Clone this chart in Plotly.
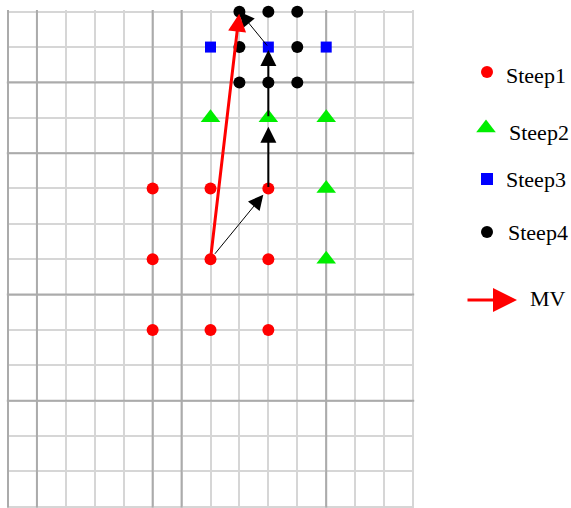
import plotly.graph_objects as go

# ---------------- data ----------------
STEP1_X = [5, 7, 9, 5, 7, 9, 5, 7, 9]
STEP1_Y = [9, 9, 9, 7, 7, 7, 5, 5, 5]
STEP2_X = [7, 9, 11, 11, 11]
STEP2_Y = [11, 11, 11, 9, 7]
STEP3_X = [7, 9, 11]
STEP3_Y = [13, 13, 13]
STEP4_X = [8, 9, 10, 8, 10, 8, 9, 10]
STEP4_Y = [14, 14, 14, 13, 13, 12, 12, 12]
# search path (black arrows) and motion vector (red arrow)
PATH_X = [7, 9, 9, 9, 8]
PATH_Y = [7, 9, 11, 13, 14]
MV_X = [7, 8]
MV_Y = [7, 14]
LEGEND_LABELS = ["Steep1", "Steep2", "Steep3", "Steep4", "MV"]

# ---------------- style ----------------
W, H = 571, 508
GRID_N = 14
DARK_X = [0, 1, 5, 6, 11]
DARK_Y = [12, 10, 6, 3]
LIGHT = "#d6d6d6"
DARK = "#ababab"
FONT = "Liberation Serif"

# pixel layout of the grid area
PX_L, PX_R = 8, 413
PY_T, PY_B = 11.7, 506.7
pad = 0.05
pad_b = 0.03
ux = (PX_R - PX_L) / GRID_N
uy = (PY_B - PY_T) / GRID_N

fig = go.Figure()

series = [
    (STEP1_X, STEP1_Y, "circle", "#ff0000", 12),
    (STEP2_X, STEP2_Y, "triangle-up", "#00ee00", 17),
    (STEP3_X, STEP3_Y, "square", "#0000ff", 11),
    (STEP4_X, STEP4_Y, "circle", "#000000", 12),
]
for (xs, ys, sym, col, sz), name in zip(series, LEGEND_LABELS):
    fig.add_trace(go.Scatter(
        x=xs, y=ys, mode="markers", name=name, cliponaxis=False,
        marker=dict(symbol=sym, color=col, size=sz, line=dict(width=0)),
        showlegend=False, hoverinfo="skip", xaxis="x", yaxis="y"))

# darker grid lines
shapes = []
for xv in DARK_X:
    shapes.append(dict(type="line", xref="x", yref="y", x0=xv, x1=xv,
                       y0=-pad_b, y1=GRID_N + pad, layer="between",
                       line=dict(color=DARK, width=2)))
for yv in DARK_Y:
    shapes.append(dict(type="line", xref="x", yref="y", y0=yv, y1=yv,
                       x0=-pad, x1=GRID_N + pad, layer="between",
                       line=dict(color=DARK, width=2)))

annotations = []
# black search path arrows
seg_style = [(1, 3.0, 8, 5), (2, 1.6, 9, 0), (2, 1.6, 3, 0), (1, 3.0, 0, 0)]
for i in range(len(PATH_X) - 1):
    w, s, so, sso = seg_style[i]
    annotations.append(dict(
        x=PATH_X[i + 1], y=PATH_Y[i + 1], ax=PATH_X[i], ay=PATH_Y[i],
        xref="x", yref="y", axref="x", ayref="y", text="",
        showarrow=True, arrowhead=2, arrowwidth=w, arrowsize=s,
        arrowcolor="#000000", standoff=so, startstandoff=sso))
# red MV arrow
annotations.append(dict(
    x=MV_X[1], y=MV_Y[1], ax=MV_X[0], ay=MV_Y[0],
    xref="x", yref="y", axref="x", ayref="y", text="",
    showarrow=True, arrowhead=2, arrowwidth=3, arrowsize=1.2,
    arrowcolor="#ff0000", standoff=2))

# ---------------- manual legend (pixel layout on a hidden helper axis) ----------------
LEG_MARK_POS = [(487, 72), (486, 128), (487, 179), (487, 232)]
LEG_TEXT_POS = [(504, 75), (507, 132), (504, 179), (506, 232), (528, 298)]
for (xs, ys, sym, col, sz), (mx, my) in zip(series, LEG_MARK_POS):
    fig.add_trace(go.Scatter(
        x=[mx], y=[my], mode="markers", showlegend=False, hoverinfo="skip",
        marker=dict(symbol=sym, color=col, size=12 if sym != "triangle-up" else 17,
                    line=dict(width=0)),
        xaxis="x2", yaxis="y2"))
for lab, (tx, ty) in zip(LEGEND_LABELS, LEG_TEXT_POS):
    annotations.append(dict(
        x=tx, y=ty, xref="x2", yref="y2", text=lab, showarrow=False,
        xanchor="left", yanchor="middle",
        font=dict(family=FONT, size=22, color="#000000")))
annotations.append(dict(
    x=517, y=300, ax=466, ay=300, xref="x2", yref="y2", axref="x2", ayref="y2",
    text="", showarrow=True, arrowhead=2, arrowwidth=3, arrowsize=1.6,
    arrowcolor="#ff0000", standoff=0))

ydom0 = max(0.0, (H - (PY_B + pad_b * uy)) / H)
ydom1 = min(1.0, (H - (PY_T - pad * uy)) / H)

fig.update_layout(
    width=W, height=H,
    margin=dict(l=0, r=0, t=0, b=0),
    paper_bgcolor="white", plot_bgcolor="rgba(0,0,0,0)",
    showlegend=False, hovermode=False,
    shapes=shapes, annotations=annotations,
    xaxis=dict(domain=[(PX_L - pad * ux) / W, (PX_R + pad * ux) / W],
               range=[-pad, GRID_N + pad], dtick=1, tick0=0,
               showgrid=True, gridcolor=LIGHT, gridwidth=2,
               zeroline=False, showticklabels=False, ticks="",
               showline=False, fixedrange=True, anchor="y"),
    yaxis=dict(domain=[ydom0, ydom1],
               range=[-pad_b, GRID_N + pad], dtick=1, tick0=0,
               showgrid=True, gridcolor=LIGHT, gridwidth=2,
               zeroline=False, showticklabels=False, ticks="",
               showline=False, fixedrange=True, anchor="x"),
    xaxis2=dict(domain=[0, 1], range=[0, W], visible=False, fixedrange=True,
                anchor="y2"),
    yaxis2=dict(domain=[0, 1], range=[H, 0], visible=False, fixedrange=True,
                anchor="x2"),
)

fig.write_html("out.html", config={"displayModeBar": False},
               post_script="document.body.style.margin='0';"
                           "document.body.style.padding='0';")
